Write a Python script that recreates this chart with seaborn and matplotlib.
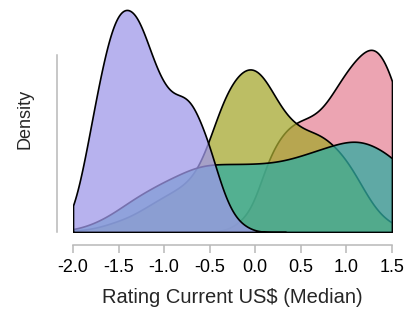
import matplotlib
matplotlib.use("Agg")
import matplotlib.pyplot as plt
import pandas as pd
import seaborn as sns

# Rating Current US$ (Median) grid and density heights per group
rating = [-2.3, -2.2, -2.1, -2.0, -1.9, -1.8, -1.7, -1.6, -1.5, -1.4, -1.3, -1.2,
          -1.1, -1.0, -0.9, -0.8, -0.7, -0.6, -0.5, -0.4, -0.3, -0.2, -0.1, 0.0,
          0.1, 0.2, 0.3, 0.4, 0.5, 0.6, 0.7, 0.8, 0.9, 1.0, 1.1, 1.2, 1.3, 1.4,
          1.5, 1.6, 1.7, 1.8, 1.9, 2.0, 2.1, 2.2]

group_a = [1, 2, 6, 20, 57, 106, 154, 194, 218, 222, 215, 192,
           165, 145, 135, 135, 129, 109, 85, 53, 27, 12, 5, 1,
           0, 0, 0, 0, 0, 0, 0, 0, 0, 0, 0, 0, 0, 0,
           0, 0, 0, 0, 0, 0, 0, 0]
group_b = [0, 0.5, 1, 2, 4, 7, 11, 16, 22, 29, 35, 40,
           45, 50, 54, 58, 63, 66, 67, 67, 67, 67, 67, 67,
           68, 68, 70, 72, 75, 78, 81, 84, 87, 90, 91, 90, 86, 80,
           75, 66, 56, 45, 34, 24, 15, 8]
group_c = [0, 0, 0.5, 1, 2, 3, 5, 8, 11, 14, 19, 24,
           30, 35, 40, 45, 52, 65, 90, 120, 142, 155, 164, 164,
           154, 136, 119, 109, 102, 99, 97, 91, 82, 72, 57, 40, 24, 14,
           8, 4, 2, 1, 0, 0, 0, 0]
group_d = [0, 0, 0, 0, 0, 0, 0, 0, 0, 0, 0, 0,
           0, 0, 0, 0, 0, 0, 0, 1, 2, 8, 15, 30,
           62, 83, 97, 106, 110, 113, 118, 129, 144, 158, 170, 179, 184, 174,
           152, 120, 85, 55, 30, 15, 7, 3]

group_names = ["A", "B", "C", "D"]
x_ticks = [-2.0, -1.5, -1.0, -0.5, 0.0, 0.5, 1.0, 1.5]

rows = []
for name, vals in zip(group_names, [group_a, group_b, group_c, group_d]):
    for r, w in zip(rating, vals):
        if w > 0:
            rows.append((r, w, name))
df = pd.DataFrame(rows, columns=["rating", "weight", "group"])

# first hue level ends up on top
palette = {"A": "#9f98e9", "B": "#30aca1", "C": "#a6a830", "D": "#e68698"}

sns.set_style("ticks")
plt.rcParams["font.family"] = ["Liberation Sans", "DejaVu Sans"]
plt.rcParams["axes.unicode_minus"] = False

fig = plt.figure(figsize=(4.07, 3.11), dpi=100)
ax = fig.add_axes([73 / 407, 79 / 311, 319 / 407, 226.5 / 311])

sns.kdeplot(data=df, x="rating", weights="weight", hue="group",
            hue_order=group_names, palette=palette,
            fill=True, common_norm=True, bw_adjust=0.3, clip=(-2, 1.5),
            alpha=0.75, edgecolor="black", linewidth=1.2, legend=False, ax=ax)

peak = max(c.get_paths()[0].vertices[:, 1].max() for c in ax.collections)
ax.set_ylim(0, peak * 1.02)
ax.set_xlim(-2, 1.5)
ax.set_xticks(x_ticks)
ax.set_xticklabels([f"{t:.1f}" for t in x_ticks])
ax.set_yticks([])

sns.despine(ax=ax, offset={"left": 11.5, "bottom": 9.5})
ax.spines["left"].set_bounds(0, peak * 177 / 222)
for side in ["left", "bottom"]:
    ax.spines[side].set_color("#b8b8b8")
    ax.spines[side].set_linewidth(1.1)

ax.tick_params(axis="x", length=5.8, width=1.1, color="#b8b8b8",
               labelsize=13, pad=4, labelcolor="black")
ax.set_xlabel("Rating Current US$ (Median)", fontsize=14.5, labelpad=9)
ax.set_ylabel("Density", fontsize=13, labelpad=17)

fig.savefig("out.png", dpi=100)
